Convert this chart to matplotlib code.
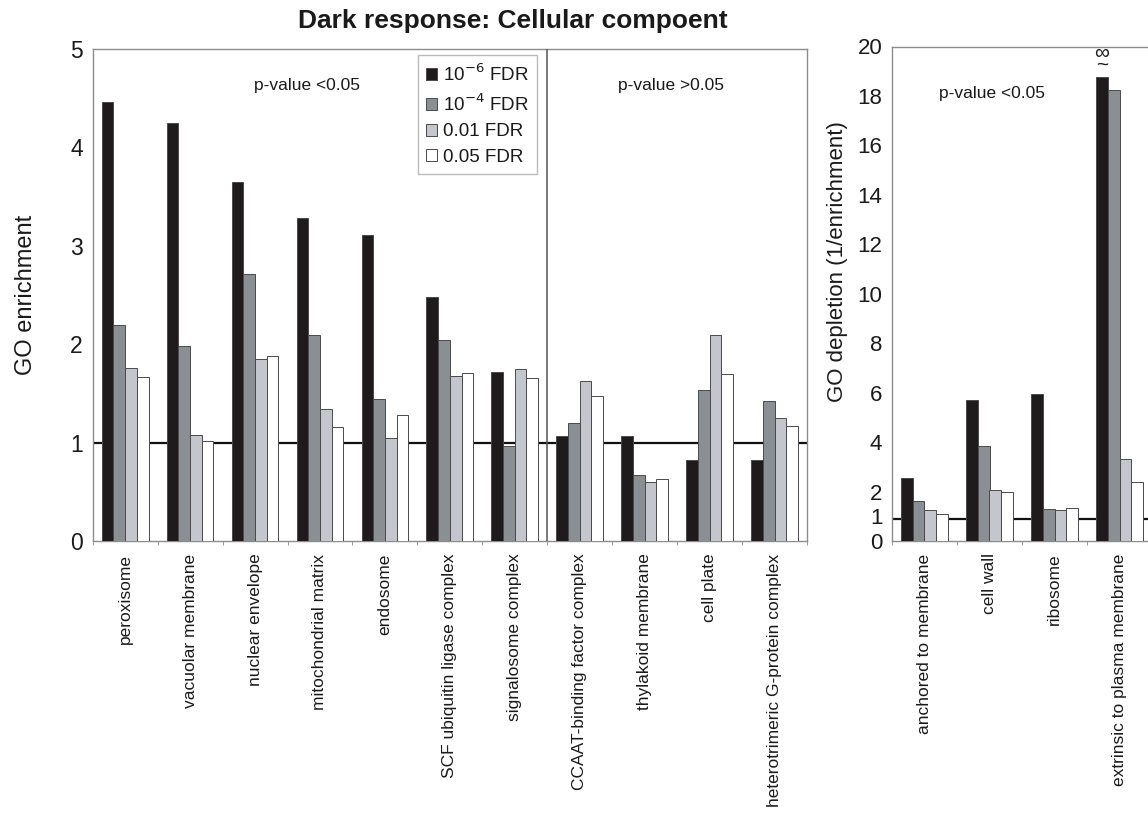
import matplotlib
matplotlib.use("Agg")
import matplotlib.pyplot as plt
from matplotlib.patches import Patch
import numpy as np

plt.rcParams['font.family'] = ['Liberation Sans', 'DejaVu Sans']

# ---------------- data ----------------
left_categories = ["peroxisome", "vacuolar membrane", "nuclear envelope", "mitochondrial matrix",
                   "endosome", "SCF ubiquitin ligase complex", "signalosome complex",
                   "CCAAT-binding factor complex", "thylakoid membrane", "cell plate",
                   "heterotrimeric G-protein complex"]
left_fdr1e6 = [4.46, 4.25, 3.65, 3.28, 3.11, 2.48, 1.72, 1.07, 1.07, 0.82, 0.82]
left_fdr1e4 = [2.20, 1.98, 2.71, 2.09, 1.44, 2.04, 0.97, 1.20, 0.67, 1.53, 1.42]
left_fdr001 = [1.76, 1.08, 1.85, 1.34, 1.05, 1.68, 1.75, 1.63, 0.60, 2.09, 1.25]
left_fdr005 = [1.67, 1.02, 1.88, 1.16, 1.28, 1.71, 1.66, 1.47, 0.63, 1.70, 1.17]

right_categories = ["anchored to membrane", "cell wall", "ribosome", "extrinsic to plasma membrane"]
right_fdr1e6 = [2.55, 5.70, 5.95, 18.75]
right_fdr1e4 = [1.62, 3.85, 1.30, 18.25]
right_fdr001 = [1.25, 2.05, 1.25, 3.30]
right_fdr005 = [1.10, 1.97, 1.35, 2.40]

series_labels = [r"10$^{-6}$ FDR", r"10$^{-4}$ FDR", "0.01 FDR", "0.05 FDR"]
left_yticks = [0, 1, 2, 3, 4, 5]
right_yticks = [0, 1, 2, 4, 6, 8, 10, 12, 14, 16, 18, 20]

colors = ["#1f1b1c", "#8a8f94", "#c3c6cc", "#ffffff"]
edge = "#4a4a4a"
spine_c = "#8c8c8c"
text_c = "#1a1a1a"

W, H = 1148, 814
fig = plt.figure(figsize=(W / 100, H / 100), dpi=100)

def px_axes(x0, y0, x1, y1):
    return fig.add_axes([x0 / W, 1 - y1 / H, (x1 - x0) / W, (y1 - y0) / H])

axL = px_axes(92.7, 49, 807, 541)
axR = px_axes(892, 46.5, 1152, 541)

bw = 0.18
offsets = (np.arange(4) - 1.5) * bw

def draw(ax, cats, series, ylim, yticks, refline, tick_fs):
    x = np.arange(len(cats))
    for k, vals in enumerate(series):
        ax.bar(x + offsets[k], vals, width=bw, color=colors[k], edgecolor=edge,
               linewidth=0.7, zorder=3)
    ax.axhline(refline, color="#111111", lw=1.6, zorder=2)
    ax.set_xlim(-0.5, len(cats) - 0.5)
    ax.set_ylim(*ylim)
    ax.set_yticks(yticks)
    ax.set_xticks(x)
    ax.set_xticklabels(cats, rotation=90, fontsize=12.5, color=text_c, va="top")
    ax.set_xticks(np.arange(len(cats) + 1) - 0.5, minor=True)
    ax.tick_params(axis="x", which="major", length=0, pad=9)
    ax.tick_params(axis="x", which="minor", length=3, color=spine_c, direction="out")
    ax.tick_params(axis="y", length=0, pad=7, labelsize=tick_fs, labelcolor=text_c)
    for s in ax.spines.values():
        s.set_color(spine_c)
        s.set_linewidth(1.0)

draw(axL, left_categories, [left_fdr1e6, left_fdr1e4, left_fdr001, left_fdr005],
     (0, 5), left_yticks, 1.0, 16.5)
draw(axR, right_categories, [right_fdr1e6, right_fdr1e4, right_fdr001, right_fdr005],
     (0, 20), right_yticks, 0.9, 16)

# divider between significant / non significant
axL.axvline(6.5, color="#555555", lw=1.1, zorder=4)

axL.set_ylabel("GO enrichment", fontsize=17, color=text_c, labelpad=24)
axR.set_ylabel("GO depletion (1/enrichment)", fontsize=16, color=text_c, labelpad=4)
axR.yaxis.set_label_coords(-0.17, 0.565)

axL.text(0.30, 0.925, "p-value <0.05", transform=axL.transAxes, ha="center", va="center",
         fontsize=12.5, color=text_c)
axL.text(0.81, 0.925, "p-value >0.05", transform=axL.transAxes, ha="center", va="center",
         fontsize=12.5, color=text_c)
axR.text(0.385, 0.905, "p-value <0.05", transform=axR.transAxes, ha="center", va="center",
         fontsize=12.5, color=text_c)

# approx-infinity marker over the tallest bar (one stacked text)
axR.text(3 + offsets[0], right_fdr1e6[3] + 0.1, "\u221e\n~", ha="center", va="bottom",
         ma="center", fontsize=15, linespacing=0.55, color=text_c)

handles = [Patch(facecolor=colors[k], edgecolor=edge, linewidth=0.7) for k in range(4)]
leg = axL.legend(handles, series_labels, loc="upper left", bbox_to_anchor=(0.455, 0.988),
                 borderaxespad=0, fontsize=13.5, frameon=True, fancybox=False, framealpha=1,
                 edgecolor="#bbbbbb", handlelength=0.6, handleheight=0.6,
                 handletextpad=0.3, labelspacing=0.45, borderpad=0.45)
leg.get_frame().set_linewidth(1.0)
for t in leg.get_texts():
    t.set_color(text_c)

fig.text(513 / W, 1 - 21 / H, "Dark response: Cellular compoent", ha="center", va="center",
         fontsize=19, fontweight="bold", color=text_c)

fig.savefig("out.png", dpi=100, facecolor="white")
